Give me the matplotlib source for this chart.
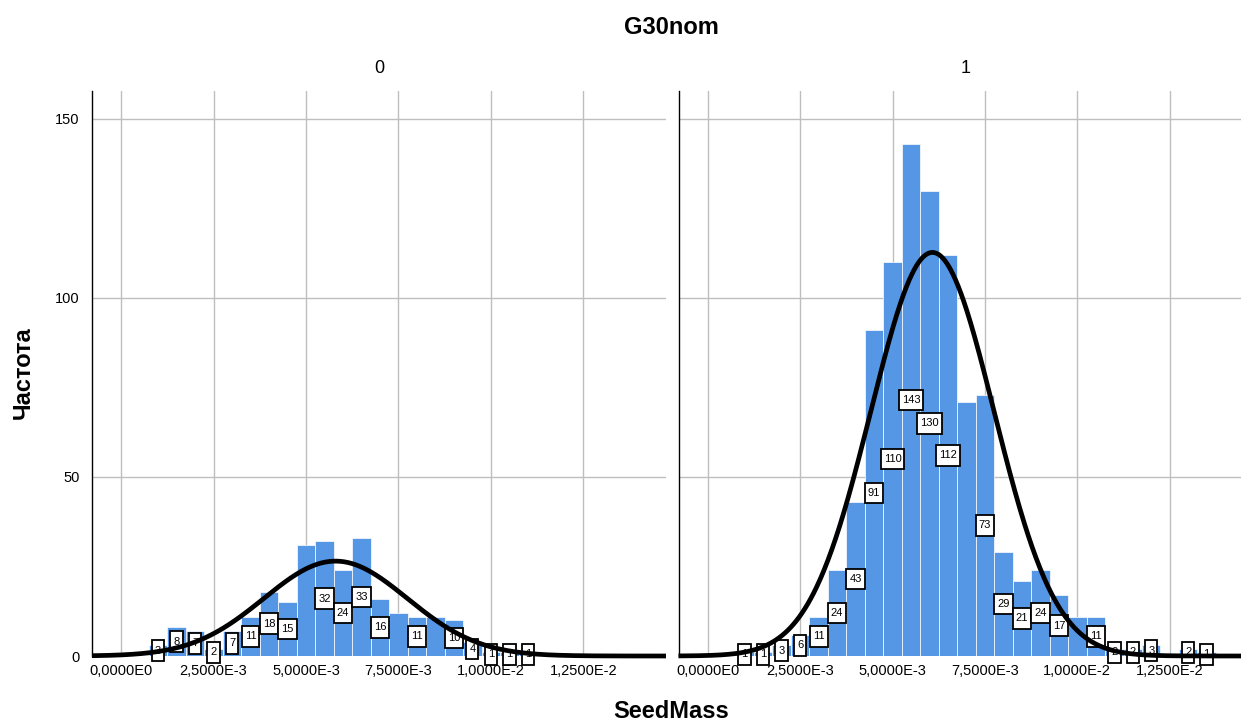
import numpy as np
import matplotlib
matplotlib.use("Agg")
import matplotlib.pyplot as plt
from matplotlib.path import Path

plt.rcParams['font.family'] = ['Liberation Sans', 'DejaVu Sans']

# ---------------- data ----------------
bin_width = 0.0005
centers_0 = [0.0010, 0.0015, 0.0020, 0.0025, 0.0030, 0.0035, 0.0040, 0.0045,
             0.0050, 0.0055, 0.0060, 0.0065, 0.0070, 0.0075, 0.0080, 0.0085,
             0.0090, 0.0095, 0.0100, 0.0105, 0.0110]
counts_0 = [3, 8, 7, 2, 7, 11, 18, 15, 31, 32, 24, 33, 16, 12, 11, 11, 10, 4, 1, 1, 1]
hidden_labels_0 = [0.0050, 0.0075, 0.0085]

centers_1 = [0.0010, 0.0015, 0.0020, 0.0025, 0.0030, 0.0035, 0.0040, 0.0045,
             0.0050, 0.0055, 0.0060, 0.0065, 0.0070, 0.0075, 0.0080, 0.0085,
             0.0090, 0.0095, 0.0100, 0.0105, 0.0110, 0.0115, 0.0120, 0.0125,
             0.0130, 0.0135]
counts_1 = [1, 1, 3, 6, 11, 24, 43, 91, 110, 143, 130, 112, 71, 73, 29, 21,
            24, 17, 11, 11, 2, 2, 3, 0, 2, 1]
hidden_labels_1 = [0.0070, 0.0100, 0.0125]

curve_mean = [0.00580, 0.00608]
curve_sd = [0.001942, 0.001667]

panel_titles = ["0", "1"]
x_ticks = [0.0, 0.0025, 0.0050, 0.0075, 0.0100, 0.0125]
x_ticklabels = ["0,0000E0", "2,5000E-3", "5,0000E-3", "7,5000E-3", "1,0000E-2", "1,2500E-2"]
y_ticks = [0, 50, 100, 150]

title = "G30nom"
xlabel = "SeedMass"
ylabel = "Частота"

# ---------------- drawing ----------------
W, H = 1241, 725
fig = plt.figure(figsize=(W / 100, H / 100), dpi=100)

bar_color = "#5596e5"
grid_color = "#bebebe"
xlim = (-0.00079, 0.01474)
ylim = (0, 157.8)

ax_left_px = [92, 678.5]
ax_w_px = 574
ax_bottom_px = 656
ax_top_px = 91


def tall_box(x0, y0, width, height, mutation_size):
    px = 0.28 * mutation_size
    py = 0.48 * mutation_size
    x0, x1 = x0 - px, x0 + width + px
    y0, y1 = y0 - py, y0 + height + py
    return Path([(x0, y0), (x1, y0), (x1, y1), (x0, y1), (x0, y0)],
                closed=True)


panels = [(centers_0, counts_0, hidden_labels_0), (centers_1, counts_1, hidden_labels_1)]

for i, (centers, counts, hidden) in enumerate(panels):
    ax = fig.add_axes([ax_left_px[i] / W, (H - ax_bottom_px) / H,
                       ax_w_px / W, (ax_bottom_px - ax_top_px) / H])
    ax.set_xlim(*xlim)
    ax.set_ylim(*ylim)
    for s in ["top", "right", "bottom"]:
        ax.spines[s].set_visible(False)
    ax.spines["left"].set_color("black")
    ax.spines["left"].set_linewidth(1.0)
    ax.set_axisbelow(True)
    ax.grid(True, color=grid_color, linewidth=1.0)
    ax.set_xticks(x_ticks)
    ax.set_xticklabels(x_ticklabels, fontsize=10.5)
    ax.set_yticks(y_ticks)
    ax.set_yticklabels([str(v) for v in y_ticks], fontsize=10.5)
    ax.tick_params(length=0, pad=6)
    ax.tick_params(axis="y", pad=9)
    if i == 1:
        ax.set_yticklabels([])

    ax.bar(centers, counts, width=bin_width, color=bar_color,
           edgecolor="white", linewidth=0.5, zorder=2)

    for c, n in zip(centers, counts):
        if n == 0 or any(abs(c - h) < 1e-9 for h in hidden):
            continue
        ax.text(c, n / 2, str(n), ha="center", va="center", fontsize=8,
                zorder=3, clip_on=False,
                bbox=dict(boxstyle=tall_box, facecolor="white",
                          edgecolor="black", linewidth=1.3))

    n_total = sum(counts)
    xs = np.linspace(xlim[0], xlim[1], 600)
    ys = n_total * bin_width / (curve_sd[i] * np.sqrt(2 * np.pi)) * \
        np.exp(-0.5 * ((xs - curve_mean[i]) / curve_sd[i]) ** 2)
    ax.plot(xs, ys, color="black", linewidth=3.4, zorder=4, clip_on=False,
            solid_capstyle="butt")

    ax.set_title(panel_titles[i], fontsize=13, pad=13)

fig.text(671 / W, 1 - 27 / H, title, ha="center", va="center",
         fontsize=17, fontweight="bold")
fig.text(671 / W, 1 - 712 / H, xlabel, ha="center", va="center",
         fontsize=17, fontweight="bold")
fig.text(23 / W, 1 - 373 / H, ylabel, ha="center", va="center",
         fontsize=17, fontweight="bold", rotation=90)

fig.savefig("out.png", dpi=100)
